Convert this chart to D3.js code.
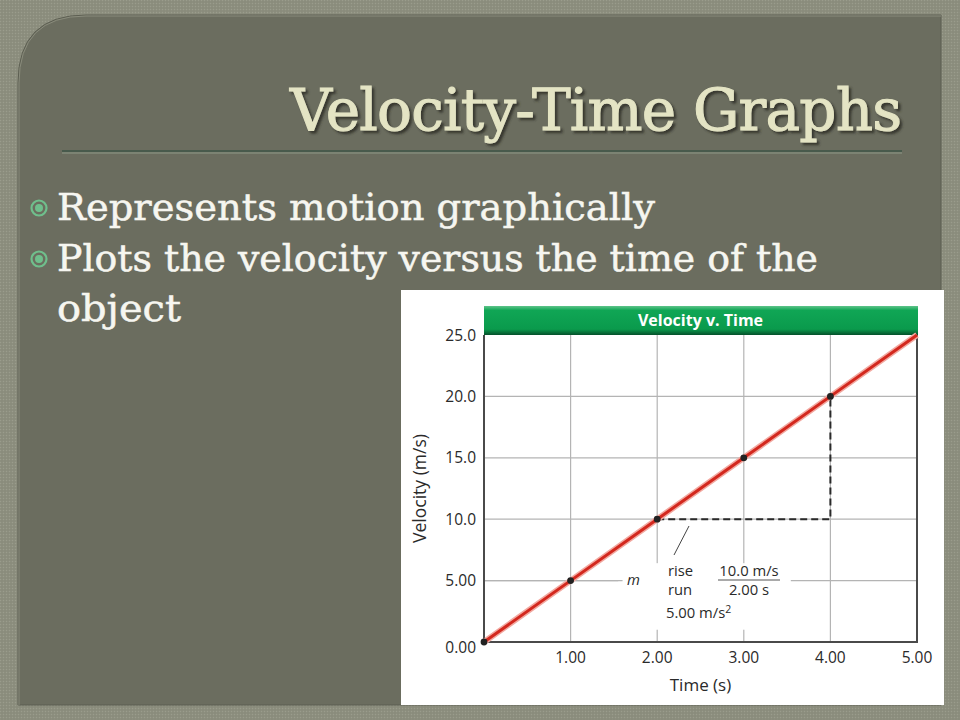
<!DOCTYPE html>
<html><head><meta charset="utf-8">
<script src="https://cdn.jsdelivr.net/npm/d3@7"></script>
<style>html,body{margin:0;padding:0;background:#8d8f7f;}svg{display:block;}</style>
</head><body>
<svg id="c" width="960" height="720"></svg>
<script>
// ---- data ----
const times = [0, 1, 2, 3, 4, 5];
const velocity = [0, 5, 10, 15, 20, 25];
const pointTimes = [0, 1, 2, 3, 4];
const pointVelocity = [0, 5, 10, 15, 20];
const yTicks = [0, 5, 10, 15, 20, 25];
const yTickLabels = ["0.00", "5.00", "10.0", "15.0", "20.0", "25.0"];
const xTicks = [1, 2, 3, 4, 5];
const xTickLabels = ["1.00", "2.00", "3.00", "4.00", "5.00"];
const riseRun = [[2, 10], [4, 10], [4, 20]];
const titleText = "Velocity-Time Graphs";
const bullets = ["Represents motion graphically", "Plots the velocity versus the time of the", "object"];
const chartTitle = "Velocity v. Time";

const svg = d3.select("#c");
const defs = svg.append("defs");
// texture pattern for outer background
const pat = defs.append("pattern").attr("id","tex").attr("width",3).attr("height",3).attr("patternUnits","userSpaceOnUse");
pat.append("rect").attr("width",3).attr("height",3).attr("fill","#8d8f7f");
pat.append("rect").attr("width",1).attr("height",1).attr("fill","#9a9c8c");
pat.append("rect").attr("x",1.5).attr("y",1.5).attr("width",1).attr("height",1).attr("fill","#818373");
svg.append("rect").attr("width",960).attr("height",720).attr("fill","url(#tex)");

// emboss filter for title
const f = defs.append("filter").attr("id","emb").attr("x","-5%").attr("y","-20%").attr("width","110%").attr("height","140%");
f.append("feDropShadow").attr("dx",2.5).attr("dy",2.5).attr("stdDeviation",0.8).attr("flood-color","#30322a").attr("flood-opacity",0.9);

// inner panel with rounded top-left corner
const L=18,T=15,R=941,B=705,r=68;
svg.append("path")
  .attr("d",`M${L},${B} L${L},${T+r} Q${L},${T} ${L+r},${T} L${R},${T} L${R},${B} Z`)
  .attr("fill","#6b6d5f").attr("stroke","#5d5f52").attr("stroke-width",1);
svg.append("path")
  .attr("d",`M${L+1},${B} L${L+1},${T+r} Q${L+1},${T+1} ${L+r},${T+1} L${R},${T+1}`)
  .attr("fill","none").attr("stroke","#8a8c7c").attr("stroke-width",1);

// title
svg.append("text").attr("x",902).attr("y",130).attr("text-anchor","end")
  .attr("font-family","'DejaVu Serif', serif").attr("font-size",58)
  .attr("fill","#e4e4c4").attr("stroke","#e4e4c4").attr("stroke-width",1)
  .attr("filter","url(#emb)").attr("textLength",612).text(titleText);
// underline
svg.append("line").attr("x1",62).attr("x2",902).attr("y1",151).attr("y2",151).attr("stroke","#485a4c").attr("stroke-width",2);
svg.append("line").attr("x1",62).attr("x2",902).attr("y1",153).attr("y2",153).attr("stroke","#8e9a88").attr("stroke-width",1);

// bullets
const bg = svg.append("g");
const bulletY = [220, 271, 321];
bullets.forEach((t,i)=>{
  if(i<2){
    const cy = bulletY[i]-12;
    bg.append("circle").attr("cx",39).attr("cy",cy).attr("r",7.5).attr("fill","none").attr("stroke","#6fbf8c").attr("stroke-width",2.2);
    bg.append("circle").attr("cx",39).attr("cy",cy).attr("r",4).attr("fill","#6fbf8c");
  }
  bg.append("text").attr("x",57).attr("y",bulletY[i]).attr("font-family","'DejaVu Serif', serif")
    .attr("font-size",37).attr("fill","#f6f6f0").attr("stroke","#f6f6f0").attr("stroke-width",0.5).text(t)
    .attr("textLength", i===0?598:(i===1?761:124)).attr("lengthAdjust","spacingAndGlyphs");
});

// chart image background
svg.append("rect").attr("x",401).attr("y",290).attr("width",543).attr("height",415).attr("fill","#ffffff");

const x = d3.scaleLinear().domain([0,5]).range([484,917]);
const y = d3.scaleLinear().domain([0,25]).range([642,335]);
const font = "'Open Sans', 'Noto Sans', sans-serif";

// gridlines
const grid = svg.append("g").attr("stroke","#b4b4b4").attr("stroke-width",1.2);
grid.selectAll("line.v").data(xTicks.slice(0,4)).join("line").attr("x1",d=>x(d)).attr("x2",d=>x(d)).attr("y1",y(25)).attr("y2",y(0));
grid.selectAll("line.h").data(yTicks.slice(1,5)).join("line").attr("x1",x(0)).attr("x2",x(5)).attr("y1",d=>y(d)).attr("y2",d=>y(d));

// white block behind annotation
svg.append("rect").attr("x",x(1.55)).attr("y",y(6.4)).attr("width",x(3.54)-x(1.55)).attr("height",y(1.6)-y(6.4)).attr("fill","#fff");
svg.append("rect").attr("x",x(2.0)-2).attr("y",y(6.4)).attr("width",x(3.54)-x(2.0)+2).attr("height",y(1.0)-y(6.4)).attr("fill","#fff");
svg.append("line").attr("x1",x(0)).attr("x2",x(1.6)).attr("y1",y(5)).attr("y2",y(5)).attr("stroke","#b4b4b4").attr("stroke-width",1.2);

// frame
svg.append("path").attr("d",`M${x(0)},${y(25)} L${x(0)},${y(0)} L${x(5)},${y(0)} L${x(5)},${y(25)}`)
  .attr("fill","none").attr("stroke","#4a4a4a").attr("stroke-width",2);

// green header
const hg = defs.append("linearGradient").attr("id","hg").attr("x1",0).attr("x2",0).attr("y1",0).attr("y2",1);
hg.append("stop").attr("offset","0%").attr("stop-color","#5fc48a");
hg.append("stop").attr("offset","15%").attr("stop-color","#10a655");
hg.append("stop").attr("offset","80%").attr("stop-color","#0a9a4c");
hg.append("stop").attr("offset","100%").attr("stop-color","#05502a");
svg.append("rect").attr("x",x(0)).attr("y",306).attr("width",x(5)-x(0)+1).attr("height",y(25)-306).attr("fill","url(#hg)");
svg.append("text").attr("x",(x(0)+x(5))/2).attr("y",326).attr("text-anchor","middle").attr("font-family",font)
  .attr("font-weight","bold").attr("font-size",16).attr("fill","#ffffff").text(chartTitle);

// dashed rise/run
const line = d3.line().x(d=>x(d[0])).y(d=>y(d[1]));
svg.append("path").attr("d",line(riseRun)).attr("fill","none").attr("stroke","#2a2a2a").attr("stroke-width",2).attr("stroke-dasharray","7,4");

// red line
const pts = times.map((t,i)=>[t,velocity[i]]);
svg.append("path").attr("d",line(pts)).attr("fill","none").attr("stroke","#f2a8a0").attr("stroke-width",6);
svg.append("path").attr("d",line(pts)).attr("fill","none").attr("stroke","#d3281e").attr("stroke-width",3);

// points
svg.selectAll("circle.p").data(pointTimes.map((t,i)=>[t,pointVelocity[i]])).join("circle")
  .attr("cx",d=>x(d[0])).attr("cy",d=>y(d[1])).attr("r",3.4).attr("fill","#222");

// ticks labels
const tl = svg.append("g").attr("font-family",font).attr("font-size",15.5).attr("fill","#2a2a2a");
tl.selectAll("text.y").data(yTicks).join("text").attr("x",476).attr("y",(d,i)=>y(d)+(i===0?11:5.5))
  .attr("text-anchor","end").text((d,i)=>yTickLabels[i]);
tl.selectAll("text.x").data(xTicks).join("text").attr("x",d=>x(d)).attr("y",663)
  .attr("text-anchor","middle").text((d,i)=>xTickLabels[i]);
tl.append("text").attr("x",(x(0)+x(5))/2).attr("y",691).attr("font-size",17).attr("text-anchor","middle").text("Time (s)");
tl.append("text").attr("transform",`translate(426,${(y(0)+y(25))/2}) rotate(-90)`).attr("font-size",17.5).attr("text-anchor","middle").text("Velocity (m/s)");

// annotation
const an = svg.append("g").attr("font-family",font).attr("font-size",14.8).attr("fill","#2a2a2a");
an.append("text").attr("x",627).attr("y",585).attr("font-style","italic").text("m");
an.append("text").attr("x",668).attr("y",576).text("rise");
an.append("text").attr("x",668).attr("y",595).text("run");
an.append("text").attr("x",749).attr("y",576).attr("text-anchor","middle").text("10.0 m/s");
an.append("text").attr("x",749).attr("y",595).attr("text-anchor","middle").text("2.00 s");
an.append("line").attr("x1",718).attr("x2",780).attr("y1",580).attr("y2",580).attr("stroke","#555").attr("stroke-width",1);
const t5 = an.append("text").attr("x",666).attr("y",618).text("5.00 m/s");
t5.append("tspan").attr("dy",-5).attr("font-size",10.5).text("2");
an.append("line").attr("x1",674).attr("y1",555).attr("x2",689).attr("y2",526).attr("stroke","#444").attr("stroke-width",1);
</script>
</body></html>
